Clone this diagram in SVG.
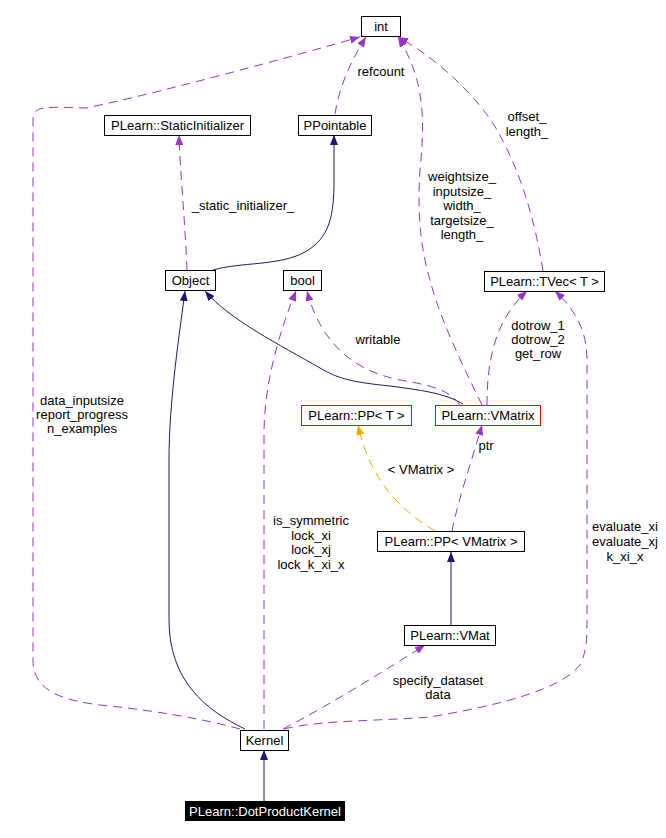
<svg xmlns="http://www.w3.org/2000/svg" width="666" height="838" viewBox="0 0 666 838">
<style>
text{font-family:"Liberation Sans",Arial,sans-serif;font-size:13px;fill:#000;text-anchor:middle}
.box{fill:#fff;stroke:#000;stroke-width:1}
.red{fill:#fff;stroke:#ff0000;stroke-width:1}
.use{fill:none;stroke:#9a32cd;stroke-width:1;stroke-dasharray:9,6}
.inh{fill:none;stroke:#191970;stroke-width:1}
.tpl{fill:none;stroke:#ffa500;stroke-width:1;stroke-dasharray:9,6}
</style>
<defs>
<marker id="mp" markerWidth="10" markerHeight="8" refX="10" refY="4" orient="auto" markerUnits="userSpaceOnUse"><path d="M0,0 L10,4 L0,8 z" fill="#9a32cd"/></marker>
<marker id="mn" markerWidth="10" markerHeight="8" refX="10" refY="4" orient="auto" markerUnits="userSpaceOnUse"><path d="M0,0 L10,4 L0,8 z" fill="#191970"/></marker>
<marker id="mo" markerWidth="10" markerHeight="8" refX="10" refY="4" orient="auto" markerUnits="userSpaceOnUse"><path d="M0,0 L10,4 L0,8 z" fill="#ffa500"/></marker>
</defs>
<rect width="666" height="838" fill="#fff"/>
<g id="edges">
<path class="inh" marker-end="url(#mn)" d="M264,801 L264,750"/>
<path class="inh" marker-end="url(#mn)" d="M245,729 C205,710 169,680 169,620 L169,460 C169,400 180,330 185,291"/>
<path class="inh" marker-end="url(#mn)" d="M463,404 C445,393 420,390 390,386 C350,382 337,378 320,368 C280,345 230,320 205,291"/>
<path class="inh" marker-end="url(#mn)" d="M213,270 C240,262 280,266 305,252 C330,238 334,215 334,180 L334,135"/>
<path class="use" marker-end="url(#mp)" d="M187,270 C185,220 180,170 179,135"/>
<path class="use" marker-end="url(#mp)" d="M240,729 C200,718 150,710 100,705 C60,700 33,690 33,660 L33,120 C33,105 45,107 86,108 C150,95 280,60 360,37"/>
<path class="use" marker-end="url(#mp)" d="M335,114 C338,95 345,70 366,37"/>
<path class="use" marker-end="url(#mp)" d="M482,405 C465,370 440,320 430,280 C418,240 418,200 420,170 C425,120 425,80 398,37"/>
<path class="use" marker-end="url(#mp)" d="M543,271 C535,220 520,170 497,130 C480,100 440,60 398,37"/>
<path class="use" marker-end="url(#mp)" d="M264,729 L264,430 C265,380 280,330 296,291"/>
<path class="use" marker-end="url(#mp)" d="M460,405 C450,390 430,385 400,380 C350,370 320,340 307,291"/>
<path class="use" marker-end="url(#mp)" d="M487,405 C487,360 495,320 527,291"/>
<path class="use" marker-end="url(#mp)" d="M284,729 C320,720 380,721 430,717 C500,705 560,690 580,665 C587,650 587,640 587,610 L587,360 C587,330 575,310 555,291"/>
<path class="use" marker-end="url(#mp)" d="M452,531 C458,500 472,460 482,425"/>
<path class="tpl" marker-end="url(#mo)" d="M435,531 C400,510 370,480 358,425"/>
<path class="inh" marker-end="url(#mn)" d="M451,625 L451,552"/>
<path class="use" marker-end="url(#mp)" d="M283,729 C320,710 370,680 425,645"/>
<text x="243" y="210">_static_initializer_</text>
<text x="82" y="405">data_inputsize</text>
<text x="82" y="419">report_progress</text>
<text x="82" y="433">n_examples</text>
<text x="381" y="76">refcount</text>
<text x="462" y="181">weightsize_</text>
<text x="462" y="195.5">inputsize_</text>
<text x="462" y="210">width_</text>
<text x="462" y="224.5">targetsize_</text>
<text x="462" y="239">length_</text>
<text x="527" y="121">offset_</text>
<text x="527" y="136">length_</text>
<text x="311" y="525">is_symmetric</text>
<text x="311" y="539.5">lock_xi</text>
<text x="311" y="554">lock_xj</text>
<text x="311" y="568.5">lock_k_xi_x</text>
<text x="378" y="344">writable</text>
<text x="538" y="330">dotrow_1</text>
<text x="538" y="344">dotrow_2</text>
<text x="538" y="358">get_row</text>
<text x="625" y="531">evaluate_xi</text>
<text x="625" y="546">evaluate_xj</text>
<text x="625" y="561">k_xi_x</text>
<text x="486" y="450">ptr</text>
<text x="421" y="474">&lt; VMatrix &gt;</text>
<text x="438" y="685">specify_dataset</text>
<text x="438" y="699">data</text>
</g>
<g id="n_int"><rect class="box" x="361.5" y="16.5" width="39" height="20"/><text x="381" y="31">int</text></g>
<g id="n_staticinit"><rect class="box" x="104.5" y="115.5" width="146" height="20"/><text x="177.5" y="130">PLearn::StaticInitializer</text></g>
<g id="n_ppointable"><rect class="box" x="298.5" y="115.5" width="73" height="20"/><text x="335" y="130">PPointable</text></g>
<g id="n_object"><rect class="box" x="165.5" y="270.5" width="50" height="20"/><text x="190.5" y="285">Object</text></g>
<g id="n_bool"><rect class="box" x="283.5" y="270.5" width="38" height="20"/><text x="302.5" y="285">bool</text></g>
<g id="n_tvec"><rect class="box" x="484.5" y="271.5" width="120" height="20"/><text x="544.5" y="286">PLearn::TVec&lt; T &gt;</text></g>
<g id="n_ppt"><rect class="red" x="301.5" y="405.5" width="110" height="20"/><text x="356.5" y="420">PLearn::PP&lt; T &gt;</text></g>
<g id="n_vmatrix"><rect class="red" x="435.5" y="405.5" width="105" height="20"/><text x="488" y="420">PLearn::VMatrix</text></g>
<g id="n_ppvmatrix"><rect class="box" x="377.5" y="531.5" width="147" height="20"/><text x="451" y="546">PLearn::PP&lt; VMatrix &gt;</text></g>
<g id="n_vmat"><rect class="box" x="404.5" y="625.5" width="91" height="20"/><text x="450" y="640">PLearn::VMat</text></g>
<g id="n_kernel"><rect class="box" x="240.5" y="730.5" width="48" height="20"/><text x="264.5" y="745">Kernel</text></g>
<g id="n_dotproduct"><rect x="185" y="801" width="160" height="20" fill="#000"/><text x="265" y="815.5" style="fill:#fff">PLearn::DotProductKernel</text></g>
</svg>
